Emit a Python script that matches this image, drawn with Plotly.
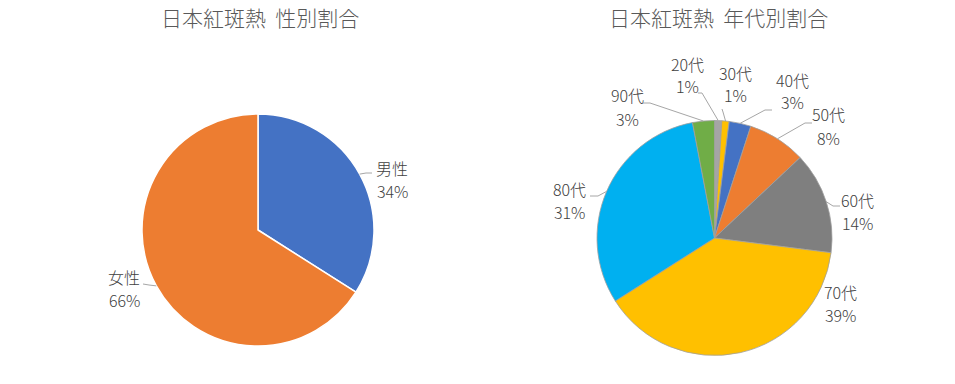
import math
import plotly.graph_objects as go

W, H = 955, 384

# ---- data ----
sex_labels = ["男性", "女性"]
sex_values = [34, 66]
age_labels = ["20代", "30代", "40代", "50代", "60代", "70代", "80代", "90代"]
age_values = [1, 1, 3, 8, 14, 39, 31, 3]
titles = ["日本紅斑熱\u00a0\u00a0性別割合", "日本紅斑熱\u00a0\u00a0年代別割合"]

# ---- styles / layout ----
sex_colors = ["#4472C4", "#ED7D31"]
age_colors = ["#A5A5A5", "#FFC000", "#4472C4", "#ED7D31", "#7F7F7F", "#FFC000", "#00B0F0", "#70AD47"]
FONT = "Noto Sans CJK JP, Noto Sans, sans-serif"
LINE_COL = "#A6A6A6"

# pie geometry in pixels: (cx, cy, r)
pies = [(258, 230, 116), (714.5, 238, 117.5)]

# label block centers (pixels) and leader anchors (anchor, elbow) or None
sex_label_pos = [(392, 179), (124, 288)]
sex_leader = [((372, 173), (366, 173)), ((143, 284), (149, 285))]
age_label_pos = [(687, 75), (735, 84), (792, 91), (828, 126), (857, 211), (840, 303), (569, 200), (627, 107)]
age_leader = [((698, 93), (702, 93)), ((722, 109), (723, 112)), ((772, 110), (765, 110)),
              ((812, 123), (805, 123)), ((840, 206), (833, 206)), None,
              ((590, 196), (598, 196)), ((643, 103), (650, 103))]
LINE_GAP = 11.5  # half distance between the two text lines of a label


def px(x):
    return x / W


def py(y):
    return 1 - y / H


fig = go.Figure()
for (cx, cy, r), labels, values, colors, lc, lw in [
    (pies[0], sex_labels, sex_values, sex_colors, "white", 1.5),
    (pies[1], age_labels, age_values, age_colors, "#A0A0A0", 0.8),
]:
    fig.add_trace(go.Pie(
        labels=labels, values=values, sort=False, direction="clockwise", rotation=0,
        marker=dict(colors=colors, line=dict(color=lc, width=lw)),
        textinfo="none", hoverinfo="label+percent", showlegend=False,
        domain=dict(x=[px(cx - r), px(cx + r)], y=[py(cy + r), py(cy - r)]),
    ))

label_font = dict(family=FONT, size=16, color="#404040", weight=300)
annotations = []
shapes = []
for (cx, cy, r), labels, values, lpos, leaders in [
    (pies[0], sex_labels, sex_values, sex_label_pos, sex_leader),
    (pies[1], age_labels, age_values, age_label_pos, age_leader),
]:
    total = sum(values)
    cum = 0
    for lab, v, pos, ld in zip(labels, values, lpos, leaders):
        mid = (cum + v / 2) / total * 2 * math.pi
        cum += v
        pct = round(v / total * 100)
        for txt, dy in [(lab, -LINE_GAP), (f"{pct}%", LINE_GAP)]:
            annotations.append(dict(
                x=px(pos[0]), y=py(pos[1] + dy), xref="paper", yref="paper",
                text=txt, showarrow=False, align="center", borderpad=0,
                font=label_font, xanchor="center", yanchor="middle",
            ))
        if ld is not None:
            ex, ey = cx + r * math.sin(mid), cy - r * math.cos(mid)
            (ax, ay), (bx, by) = ld
            path = f"M {px(ex)},{py(ey)} L {px(bx)},{py(by)} L {px(ax)},{py(ay)}"
            shapes.append(dict(type="path", path=path, xref="paper", yref="paper",
                               line=dict(color=LINE_COL, width=1)))

for t, x in zip(titles, [260, 718]):
    annotations.append(dict(
        x=px(x), y=py(17), xref="paper", yref="paper", text=t, showarrow=False,
        font=dict(family=FONT, size=21, color="#595959", weight=300),
        xanchor="center", yanchor="middle",
    ))

fig.update_layout(
    width=W, height=H, margin=dict(l=0, r=0, t=0, b=0),
    paper_bgcolor="white", plot_bgcolor="white",
    annotations=annotations, shapes=shapes,
)
fig.write_html("out.html")
